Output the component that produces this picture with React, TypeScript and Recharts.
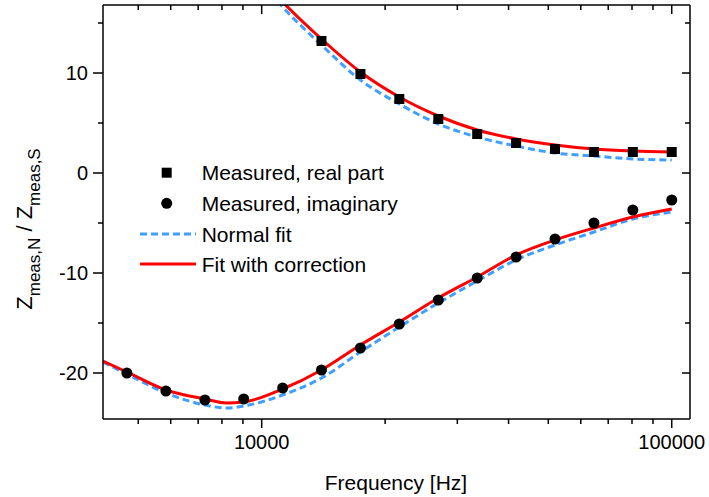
import {
  ComposedChart,
  Line,
  Scatter,
  XAxis,
  YAxis,
  Legend,
} from "recharts";

const FONT = "'Liberation Sans', Arial, sans-serif";

// measured points (Hz)
const measFreq = [4690, 5840, 7270, 9040, 11250, 13990, 17410, 21660, 26960, 33540, 41730, 51920, 64600, 80370, 100000];
const realFreq = [13990, 17410, 21660, 26960, 33540, 41730, 51920, 64600, 80370, 100000];
const realMeasured = [13.2, 9.9, 7.4, 5.4, 3.9, 3.0, 2.4, 2.1, 2.1, 2.1];
const imagMeasured = [-20.0, -21.8, -22.7, -22.6, -21.5, -19.7, -17.5, -15.1, -12.7, -10.5, -8.4, -6.6, -5.0, -3.7, -2.7];

// fit curves
const fitRealFreq = [10500, 11250, 13990, 17410, 21660, 26960, 33540, 41730, 51920, 64600, 80370, 100000];
const corrReal = [18.4, 17.1, 13.4, 10.1, 7.6, 5.7, 4.3, 3.4, 2.8, 2.4, 2.2, 2.1];
const normalReal = [18.0, 16.6, 12.8, 9.3, 6.9, 4.9, 3.6, 2.7, 2.0, 1.7, 1.4, 1.3];

const fitImagFreq = [4100, 4690, 5840, 7270, 8200, 9040, 11250, 13990, 17410, 21660, 26960, 33540, 41730, 51920, 64600, 80370, 100000];
const corrImag = [-18.8, -19.9, -21.7, -22.6, -23.0, -22.9, -21.6, -19.7, -17.2, -14.9, -12.5, -10.4, -8.2, -6.7, -5.5, -4.4, -3.6];
const normalImag = [-18.9, -20.1, -22.0, -23.2, -23.5, -23.3, -22.2, -20.5, -17.9, -15.4, -13.0, -10.8, -8.7, -7.2, -5.9, -4.6, -3.9];

const xTicks = [5000, 6000, 7000, 8000, 9000, 10000, 20000, 30000, 40000, 50000, 60000, 70000, 80000, 90000, 100000];
const xMajor = [10000, 100000];
const yTicks = [-20, -15, -10, -5, 0, 5, 10, 15];

const pts = (fs: number[], vs: number[]) => fs.map((f, i) => ({ f, v: vs[i] }));

const BLUE = "#3FA0FF";
const RED = "#FF0000";

const BottomTick = (p: any) => {
  const major = xMajor.includes(p.payload.value);
  return (
    <g>
      <line x1={p.x} x2={p.x} y1={p.y} y2={p.y + (major ? 9 : 5)} stroke="#000" strokeWidth={1.5} />
      {major && (
        <text x={p.x} y={p.y + 30} textAnchor="middle" fontSize={20} fontFamily={FONT} fill="#000">
          {p.payload.value}
        </text>
      )}
    </g>
  );
};

const TopTick = (p: any) => {
  const major = xMajor.includes(p.payload.value);
  return <line x1={p.x} x2={p.x} y1={p.y} y2={p.y + (major ? 9 : 5)} stroke="#000" strokeWidth={1.5} />;
};

const LeftTick = (p: any) => {
  const major = p.payload.value % 10 === 0;
  return (
    <g>
      <line x1={p.x} x2={p.x - (major ? 10 : 5)} y1={p.y} y2={p.y} stroke="#000" strokeWidth={1.5} />
      {major && (
        <text x={p.x - 15} y={p.y + 6.5} textAnchor="end" fontSize={20} fontFamily={FONT} fill="#000">
          {p.payload.value}
        </text>
      )}
    </g>
  );
};

const RightTick = (p: any) => {
  const major = p.payload.value % 10 === 0;
  return <line x1={p.x} x2={p.x - (major ? 8 : 5)} y1={p.y} y2={p.y} stroke="#000" strokeWidth={1.5} />;
};

const Square = (p: any) => <rect x={p.cx - 5} y={p.cy - 5} width={10} height={10} fill="#000" />;
const Dot = (p: any) => <circle cx={p.cx} cy={p.cy} r={5.5} fill="#000" />;

const YTitle = () => (
  <text transform="translate(32, 229) rotate(-90)" textAnchor="middle" fontSize={22} fontFamily={FONT} fill="#000">
    Z<tspan fontSize={17} dy={8}>meas,N</tspan>
    <tspan dy={-8}> / Z</tspan>
    <tspan fontSize={17} dy={8}>meas,S</tspan>
  </text>
);

const XTitle = () => (
  <text x={396} y={490} textAnchor="middle" fontSize={21} fontFamily={FONT} fill="#000">
    Frequency [Hz]
  </text>
);

const LegendBox = () => (
  <svg width={280} height={130} style={{ display: "block" }}>
    <g fontFamily={FONT} fontSize={21} fill="#000">
      <rect x={31.7} y={17.7} width={10} height={10} fill="#000" />
      <text x={71.7} y={22.7} dy={7.5}>Measured, real part</text>
      <circle cx={36.7} cy={53.3} r={5.5} fill="#000" />
      <text x={71.7} y={53.3} dy={7.5}>Measured, imaginary</text>
      <line x1={10} x2={66} y1={84} y2={84} stroke={BLUE} strokeWidth={3} strokeDasharray="7 4" />
      <text x={71.7} y={84} dy={7.5}>Normal fit</text>
      <line x1={10} x2={66} y1={114} y2={114} stroke={RED} strokeWidth={3} />
      <text x={71.7} y={114} dy={7.5}>Fit with correction</text>
    </g>
  </svg>
);

export default function App() {
  return (
    <div style={{ position: "absolute", left: 0, top: 0, width: 709, height: 497, background: "#fff" }}>
      <ComposedChart width={709} height={497} margin={{ top: 4, right: 18, left: 0, bottom: 0 }}>
        <XAxis
          dataKey="f"
          type="number"
          scale="log"
          domain={[4102, 110800]}
          allowDataOverflow
          ticks={xTicks}
          interval={0}
          height={78}
          tickSize={0}
          tickMargin={0}
          tickLine={false}
          tick={BottomTick}
          axisLine={{ stroke: "#000", strokeWidth: 1.5 }}
          label={<XTitle />}
        />
        <XAxis
          xAxisId="top"
          orientation="top"
          dataKey="f"
          type="number"
          scale="log"
          domain={[4102, 110800]}
          allowDataOverflow
          ticks={xTicks}
          interval={0}
          height={1}
          tickSize={0}
          tickMargin={0}
          tickLine={false}
          tick={TopTick}
          axisLine={{ stroke: "#000", strokeWidth: 1.5 }}
        />
        <YAxis
          dataKey="v"
          type="number"
          domain={[-24.6, 16.8]}
          allowDataOverflow
          ticks={yTicks}
          interval={0}
          width={103}
          tickSize={0}
          tickMargin={0}
          tickLine={false}
          tick={LeftTick}
          axisLine={{ stroke: "#000", strokeWidth: 1.5 }}
          label={<YTitle />}
        />
        <YAxis
          yAxisId="right"
          orientation="right"
          dataKey="v"
          type="number"
          domain={[-24.6, 16.8]}
          allowDataOverflow
          ticks={yTicks}
          interval={0}
          width={1}
          tickSize={0}
          tickMargin={0}
          tickLine={false}
          tick={RightTick}
          axisLine={{ stroke: "#000", strokeWidth: 1.5 }}
        />
        <Legend
          layout="vertical"
          align="center"
          verticalAlign="middle"
          content={<LegendBox />}
          wrapperStyle={{ left: 130, top: 150, width: 280, height: 130 }}
        />
        <Line data={pts(fitRealFreq, normalReal)} dataKey="v" type="monotone" stroke={BLUE} strokeWidth={3} strokeDasharray="7 4" dot={false} isAnimationActive={false} />
        <Line data={pts(fitImagFreq, normalImag)} dataKey="v" type="monotone" stroke={BLUE} strokeWidth={3} strokeDasharray="7 4" dot={false} isAnimationActive={false} />
        <Scatter data={pts(realFreq, realMeasured)} dataKey="v" shape={Square} isAnimationActive={false} />
        <Scatter data={pts(measFreq, imagMeasured)} dataKey="v" shape={Dot} isAnimationActive={false} />
        <Line data={pts(fitRealFreq, corrReal)} dataKey="v" type="monotone" stroke={RED} strokeWidth={3} dot={false} isAnimationActive={false} />
        <Line data={pts(fitImagFreq, corrImag)} dataKey="v" type="monotone" stroke={RED} strokeWidth={3} dot={false} isAnimationActive={false} />
      </ComposedChart>
    </div>
  );
}
